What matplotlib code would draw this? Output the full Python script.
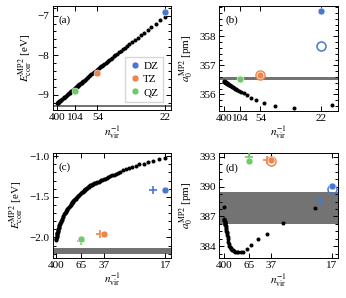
import matplotlib
matplotlib.use('Agg')
import matplotlib.pyplot as plt
from matplotlib.ticker import AutoMinorLocator

plt.rcParams['font.family'] = ['Liberation Serif', 'DejaVu Serif']
plt.rcParams['mathtext.fontset'] = 'stix'
plt.rcParams['font.size'] = 8

# ---- data ----
# (a) correlation energy, dense n_vir
nvir_a = [22, 23, 24, 25, 26, 27, 28, 29, 30, 31, 32, 33, 34, 35, 36, 37, 38, 39, 40,
          41, 42, 43, 44, 45, 46, 47, 48, 49, 50, 51, 52, 53, 54, 55, 56, 57, 58, 59, 60,
          62, 64, 66, 68, 70, 72, 74, 76, 78, 80, 82, 84, 86, 88, 90, 92, 94, 96, 98, 100,
          105, 110, 115, 120, 125, 130, 135, 140, 145, 150, 160, 170, 180, 190, 200,
          220, 240, 260, 280, 300, 320, 340, 360, 380, 400]
ecorr_a = [-7.029, -7.122, -7.209, -7.289, -7.362, -7.431, -7.495, -7.556, -7.612, -7.665,
           -7.715, -7.762, -7.806, -7.848, -7.888, -7.925, -7.961, -7.995, -8.028,
           -8.058, -8.088, -8.116, -8.143, -8.169, -8.194, -8.217, -8.240, -8.262, -8.283,
           -8.303, -8.322, -8.341, -8.359, -8.377, -8.393, -8.410, -8.425, -8.441, -8.455,
           -8.483, -8.510, -8.534, -8.558, -8.580, -8.601, -8.620, -8.639, -8.657, -8.674,
           -8.690, -8.705, -8.720, -8.734, -8.747, -8.760, -8.772, -8.784, -8.795, -8.806,
           -8.832, -8.855, -8.876, -8.895, -8.913, -8.929, -8.945, -8.959, -8.972, -8.985,
           -9.007, -9.027, -9.044, -9.060, -9.074,
           -9.099, -9.120, -9.137, -9.152, -9.164, -9.176, -9.186, -9.195, -9.203, -9.210]

# (b) lattice constant, n_vir in steps of 10
nvir_b = [20, 30, 40, 50, 60, 70, 80, 90, 100, 110, 120, 130, 140, 150, 160, 170, 180, 190,
          200, 210, 220, 230, 240, 250, 260, 270, 280, 290, 300, 310, 320, 330, 340, 350,
          360, 370, 380, 390, 400]
a0_b = [355.65, 355.53, 355.60, 355.71, 355.81, 355.89, 355.97, 356.04, 356.09, 356.12,
        356.15, 356.18, 356.20, 356.23, 356.25, 356.27, 356.29, 356.30, 356.32, 356.33,
        356.34, 356.35, 356.36, 356.37, 356.375, 356.38, 356.39, 356.395, 356.40, 356.41,
        356.415, 356.42, 356.425, 356.43, 356.43, 356.435, 356.44, 356.445, 356.45]

# (c) correlation energy, dense n_vir
nvir_c = [17, 18, 19, 20, 21, 22, 23, 24, 25, 26, 27, 28, 29, 30, 31, 32, 33, 34, 35, 36,
          37, 38, 39, 40, 41, 42, 43, 44, 45, 46, 47, 48, 49, 50, 51, 52, 53, 54, 55, 56,
          57, 58, 59, 60, 62, 64, 66, 68, 70, 72, 74, 76, 78, 80, 82, 84, 86, 88, 90, 92,
          94, 96, 98, 100, 105, 110, 115, 120, 125, 130, 135, 140, 145, 150, 160, 170,
          180, 190, 200, 210, 220, 230, 240, 250, 260, 270, 280, 290, 300, 310, 320, 330,
          340, 350, 360, 370, 380, 390, 400]
ecorr_c = [-1.02, -1.04, -1.06, -1.075, -1.09, -1.10, -1.115, -1.13, -1.143, -1.157,
           -1.172, -1.188, -1.203, -1.215, -1.225, -1.233, -1.245, -1.255, -1.265, -1.275,
           -1.283, -1.29, -1.298, -1.305, -1.313, -1.32, -1.325, -1.33, -1.335, -1.34,
           -1.345, -1.35, -1.355, -1.36, -1.367, -1.373, -1.38, -1.387, -1.394, -1.40,
           -1.406, -1.412, -1.419, -1.425, -1.435, -1.445, -1.455, -1.465, -1.475, -1.485,
           -1.495, -1.505, -1.515, -1.522, -1.529, -1.535, -1.543, -1.552, -1.56, -1.567,
           -1.574, -1.581, -1.588, -1.595, -1.61, -1.623, -1.635, -1.648, -1.66, -1.672,
           -1.684, -1.695, -1.705, -1.715, -1.735, -1.752,
           -1.77, -1.785, -1.80, -1.815, -1.828, -1.84, -1.851, -1.862, -1.873, -1.885,
           -1.896, -1.907, -1.918, -1.929, -1.94, -1.95,
           -1.96, -1.971, -1.982, -1.993, -2.005, -2.017, -2.03]

# (d) lattice constant, n_vir in steps of 10
nvir_d = [20, 30, 40, 50, 60, 70, 80, 90, 100, 110, 120, 130, 140, 150, 160, 170, 180, 190,
          200, 210, 220, 230, 240, 250, 260, 270, 280, 290, 300, 310, 320, 330, 340, 350,
          360, 370, 380, 390, 400]
a0_d = [387.8, 386.3, 385.2, 384.7, 384.1, 383.7, 383.45, 383.4, 383.4, 383.4,
        383.45, 383.5, 383.6, 383.65, 383.75, 383.85, 383.95, 384.05,
        384.25, 384.45, 384.7, 384.9, 385.1, 385.3, 385.4, 385.55, 385.7, 385.85, 386.0,
        386.1, 386.2, 386.25, 386.35, 386.4, 386.5, 386.6, 386.65, 386.7, 387.9]

# basis set results
basis = ['DZ', 'TZ', 'QZ']
colors = ['#4878d0', '#ee854a', '#6acc64']
nvir_basis_top = [22, 54, 104]
ecorr_basis_a = [-6.92, -8.44, -8.89]
a0_basis_b = [358.86, 356.68, 356.53]
a0_open_b = [357.68, 356.68]
nvir_basis_bot = [17, 37, 65]
nvir_plus_bot = [19, 40, 65]
ecorr_basis_c = [-1.41, -1.96, -2.02]
ecorr_plus_c = [-1.41, -1.96, -2.04]
a0_basis_d = [390.07, 392.72, 392.63]
a0_open_d = [389.72, 392.62]
a0_plus_d = [388.6, 392.72, 393.0]

# extrapolated limits (grey bands)
band_a = (-9.31, -9.26)
band_b = (356.51, 356.6)
band_c = (-2.2, -2.125)
band_d = (386.2, 389.5)

ticks_top = [400, 104, 54, 22]
ticks_bot = [400, 65, 37, 17]

W, H = 346, 298
fig = plt.figure(figsize=(W / 100, H / 100), dpi=100)


def make_ax(l, r, t, b):
    return fig.add_axes([l / W, 1 - b / H, (r - l) / W, (b - t) / H])


axa = make_ax(52.7, 171, 5.7, 110)
axb = make_ax(219.3, 338, 5.7, 110.5)
axc = make_ax(52.7, 171, 153, 257.5)
axd = make_ax(219.3, 338, 153, 258)

inv = lambda ns: [1.0 / n for n in ns]
dot_kw = dict(ls='none', marker='o', ms=2.9, color='black', mew=0, zorder=2)
band_kw = dict(color='0.45', lw=0, zorder=1)


def filled(ax, ns, vals, labels=None):
    for i in range(len(vals)):
        ax.plot(1.0 / ns[i], vals[i], ls='none', marker='o', ms=5, color=colors[i],
                mec='white', mew=0.4, zorder=4, label=labels[i] if labels else None)


def opened(ax, ns, vals):
    for i in range(len(vals)):
        ax.plot(1.0 / ns[i], vals[i], ls='none', marker='o', ms=6.5, mfc='none',
                mec=colors[i], mew=1.1, zorder=3)


def plus(ax, ns, vals):
    for i in range(len(vals)):
        ax.plot(1.0 / ns[i], vals[i], ls='none', marker='+', ms=6, mew=1.2,
                color=colors[i], zorder=3)


# (a)
axa.axhspan(*band_a, **band_kw)
axa.plot(inv(nvir_a), ecorr_a, **dot_kw)
filled(axa, nvir_basis_top, ecorr_basis_a, basis)
axa.set_xlim(0.0007, 0.0478)
axa.set_ylim(-9.38, -6.75)
axa.set_yticks([-9, -8, -7])
axa.legend(loc='lower right', bbox_to_anchor=(0.93, 0.08), borderaxespad=0,
           handletextpad=0.2, labelspacing=0.3, borderpad=0.4, handlelength=1.0,
           fontsize=8, fancybox=False, edgecolor='0.8')

# (b)
axb.axhspan(*band_b, **band_kw)
axb.plot(inv(nvir_b), a0_b, **dot_kw)
opened(axb, nvir_basis_top, a0_open_b)
filled(axb, nvir_basis_top, a0_basis_b)
axb.set_xlim(0.0003, 0.0528)
axb.set_ylim(355.45, 359.05)
axb.set_yticks([356, 357, 358])

# (c)
axc.axhspan(*band_c, **band_kw)
axc.plot(inv(nvir_c), ecorr_c, **dot_kw)
plus(axc, nvir_plus_bot, ecorr_plus_c)
filled(axc, nvir_basis_bot, ecorr_basis_c)
axc.set_xlim(0.0007, 0.0618)
axc.set_ylim(-2.247, -0.96)
axc.set_yticks([-2.0, -1.5, -1.0])
axc.set_yticklabels(['\u22122.0', '\u22121.5', '\u22121.0'])

# (d)
axd.axhspan(*band_d, **band_kw)
axd.plot(inv(nvir_d), a0_d, **dot_kw)
opened(axd, nvir_basis_bot, a0_open_d)
plus(axd, nvir_plus_bot, a0_plus_d)
filled(axd, nvir_basis_bot, a0_basis_d)
axd.set_xlim(0.0, 0.062)
axd.set_ylim(382.8, 393.4)
axd.set_yticks([384, 387, 390, 393])

for ax, ticks, lab in [(axa, ticks_top, '(a)'), (axb, ticks_top, '(b)'),
                       (axc, ticks_bot, '(c)'), (axd, ticks_bot, '(d)')]:
    ax.set_xticks(inv(ticks))
    ax.set_xticklabels([str(t) for t in ticks])
    ax.yaxis.set_minor_locator(AutoMinorLocator())
    ax.tick_params(which='both', direction='in', top=True, right=True, width=0.7)
    ax.tick_params(which='major', length=3.5, pad=2.5)
    ax.tick_params(which='minor', length=2)
    ax.set_xlabel(r'$n_{\rm vir}^{-1}$', labelpad=1)
    ax.text(0.05, 0.86, lab, transform=ax.transAxes, ha='left', va='center')
    for s in ax.spines.values():
        s.set_linewidth(0.7)

axa.set_ylabel(r'$E_{\rm corr}^{\rm MP2}$ [eV]', labelpad=2)
axc.set_ylabel(r'$E_{\rm corr}^{\rm MP2}$ [eV]', labelpad=2)
axb.set_ylabel(r'$a_0^{\rm MP2}$ [pm]', labelpad=2)
axd.set_ylabel(r'$a_0^{\rm MP2}$ [pm]', labelpad=2)

fig.savefig('out.png', dpi=100)
